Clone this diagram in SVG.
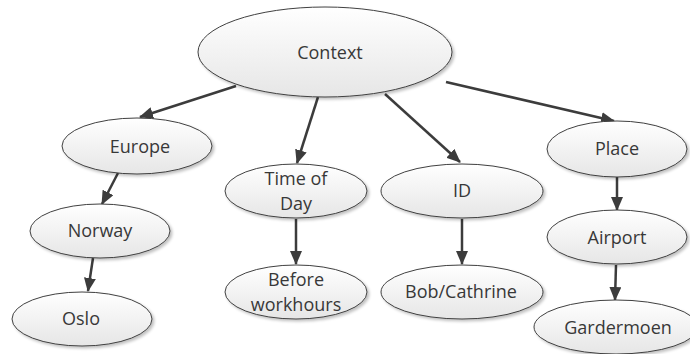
<svg xmlns="http://www.w3.org/2000/svg" width="690" height="354" viewBox="0 0 690 354">
  <defs>
    <linearGradient id="fillGrad" x1="0" y1="0" x2="0" y2="1">
      <stop offset="0" stop-color="#ffffff"/>
      <stop offset="1" stop-color="#e6e6e6"/>
    </linearGradient>
    <filter id="shadow" x="-10%" y="-10%" width="125%" height="135%">
      <feGaussianBlur in="SourceAlpha" stdDeviation="1.5"/>
      <feOffset dx="1.5" dy="2" result="b"/>
      <feComponentTransfer><feFuncA type="linear" slope="0.25"/></feComponentTransfer>
      <feMerge><feMergeNode/><feMergeNode in="SourceGraphic"/></feMerge>
    </filter>
    <marker id="arrow" markerUnits="userSpaceOnUse" markerWidth="14" markerHeight="12" refX="13" refY="6" orient="auto">
      <path d="M0,0 L14,6 L0,12 Z" fill="#3c3c3c"/>
    </marker>
  </defs>
  <style>
    .node ellipse { fill: url(#fillGrad); stroke: #404040; stroke-width: 1; filter: url(#shadow); }
    .node text { font-family: "Open Sans", "Liberation Sans", sans-serif; font-size: 18px; fill: #383838; text-anchor: middle; }
    .edge { stroke: #3c3c3c; stroke-width: 2.5; fill: none; marker-end: url(#arrow); }
  </style>

  <rect width="690" height="354" fill="#ffffff"/>

  <g id="connectors">
    <line class="edge" x1="236" y1="86" x2="140" y2="117"/>
    <line class="edge" x1="318" y1="97" x2="297" y2="163"/>
    <line class="edge" x1="385" y1="94" x2="460" y2="162"/>
    <line class="edge" x1="446" y1="82" x2="614" y2="121"/>
    <line class="edge" x1="118" y1="173" x2="102" y2="204"/>
    <line class="edge" x1="93" y1="258" x2="88" y2="291"/>
    <line class="edge" x1="296" y1="219" x2="296" y2="264"/>
    <line class="edge" x1="462" y1="219" x2="462" y2="264"/>
    <line class="edge" x1="617" y1="177" x2="617" y2="210"/>
    <line class="edge" x1="616" y1="265" x2="615" y2="300"/>
  </g>

  <g id="context" class="node">
    <ellipse cx="325" cy="52" rx="127" ry="45"/>
    <text x="330" y="59">Context</text>
  </g>
  <g id="europe" class="node">
    <ellipse cx="137" cy="146" rx="75" ry="28"/>
    <text x="140" y="153">Europe</text>
  </g>
  <g id="norway" class="node">
    <ellipse cx="100" cy="231" rx="70" ry="27"/>
    <text x="100" y="237">Norway</text>
  </g>
  <g id="oslo" class="node">
    <ellipse cx="82" cy="319" rx="70" ry="27"/>
    <text x="81" y="325">Oslo</text>
  </g>
  <g id="time-of-day" class="node">
    <ellipse cx="296" cy="191" rx="71" ry="27"/>
    <text x="296" y="185">Time of</text>
    <text x="296" y="210">Day</text>
  </g>
  <g id="before-workhours" class="node">
    <ellipse cx="296" cy="292" rx="71" ry="27"/>
    <text x="296" y="286">Before</text>
    <text x="296" y="311">workhours</text>
  </g>
  <g id="id" class="node">
    <ellipse cx="462" cy="191" rx="81" ry="27"/>
    <text x="462" y="197">ID</text>
  </g>
  <g id="bob-cathrine" class="node">
    <ellipse cx="462" cy="292" rx="81" ry="27"/>
    <text x="461" y="298">Bob/Cathrine</text>
  </g>
  <g id="place" class="node">
    <ellipse cx="617" cy="149" rx="70" ry="28"/>
    <text x="617" y="155">Place</text>
  </g>
  <g id="airport" class="node">
    <ellipse cx="617" cy="237" rx="70" ry="27"/>
    <text x="617" y="244">Airport</text>
  </g>
  <g id="gardermoen" class="node">
    <ellipse cx="616" cy="327" rx="82" ry="27"/>
    <text x="618" y="334">Gardermoen</text>
  </g>
</svg>
